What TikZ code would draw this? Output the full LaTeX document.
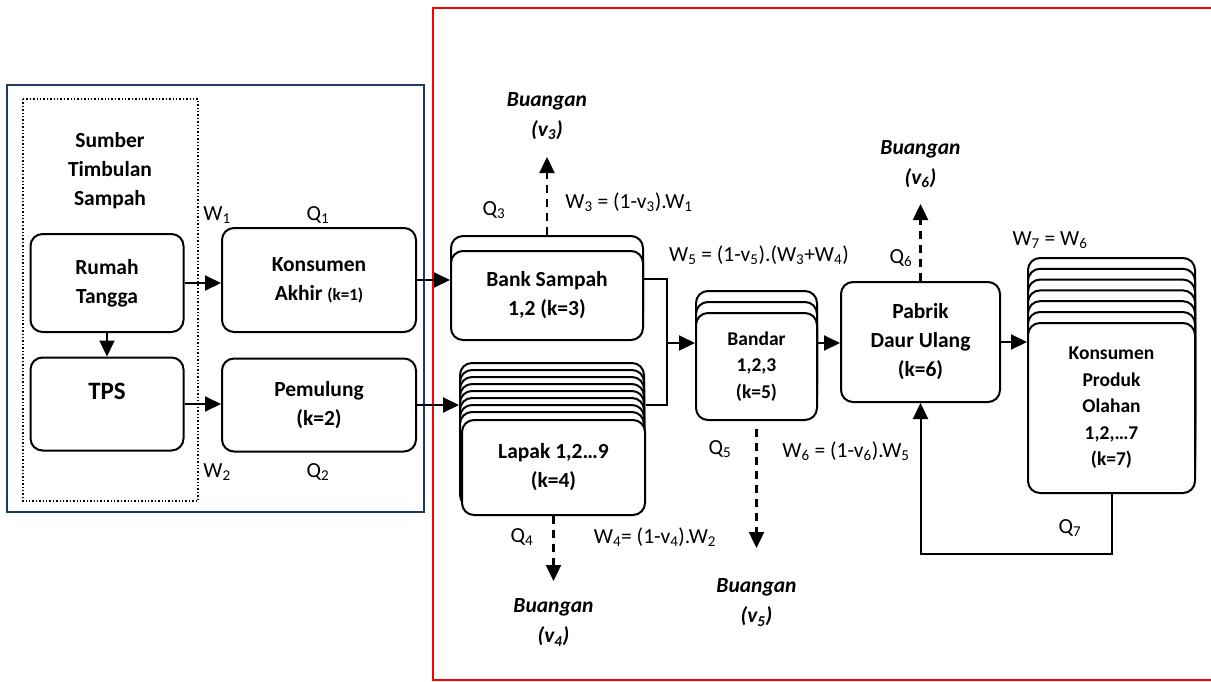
\documentclass[tikz,border=0pt]{standalone}
\usepackage{fontspec}
\setmainfont{Carlito}
\usetikzlibrary{arrows.meta,positioning}
\definecolor{navy}{RGB}{31,56,100}

\begin{document}
\begin{tikzpicture}[x=1pt, y=-1pt, line width=2pt,
    box/.style={draw, rounded corners=12pt, fill=white, align=center, inner sep=0pt, font=\fontsize{21.5}{29}\selectfont\bfseries},
    layer/.style={draw, rounded corners=12pt, fill=white},
    small/.style={font=\fontsize{19.5}{26.5}\selectfont\bfseries},
    lbl/.style={inner sep=0pt, font=\fontsize{21.5}{26}\selectfont},
    waste/.style={align=center, inner sep=0pt, font=\fontsize{21.5}{30}\selectfont\bfseries\itshape},
    arr/.style={-{Triangle[length=16pt,width=15pt]}},
    darr/.style={arr, line width=2.4pt, dash pattern=on 8pt off 6pt}]
    	\useasboundingbox (0,0) rectangle (1211,681);
    	\draw[red, line width=2.2pt] (1214,8) -| (433,680) -- (1214,680);
    	\draw[navy, line width=2pt] (7,85) rectangle (424,512);
    	\draw[dotted, line width=1.4pt] (23,99) rectangle (198,501);
    	\node[align=center, font=\fontsize{21.5}{29}\selectfont\bfseries] (src) at (110,171) {Sumber\\Timbulan\\Sampah};

    	\node[box, minimum width=153pt, minimum height=98pt] (rt) at (107,283) {Rumah\\Tangga};
    	\node[box, minimum width=153pt, minimum height=93pt] (tps) at (107,404) {};
    	\node[inner sep=0pt, font=\fontsize{25}{30}\selectfont\bfseries, below=26pt of tps.north] (tpsname) {TPS};
    	\node[box, minimum width=194pt, minimum height=104pt] (ka) at (319,280) {Konsumen\\Akhir {\fontsize{17}{20}\selectfont(k=1)}};
    	\node[box, minimum width=194pt, minimum height=93pt] (pem) at (319,405) {Pemulung\\(k=2)};

    	\draw[layer] (451,236) rectangle (643,325);
    	\node[box, minimum width=192pt, minimum height=89pt] (bank) at (547,295.5) {Bank Sampah\\1,2 (k=3)};
    	\foreach \t in {0,...,7}
    		\draw[layer] (460,{363+7*\t}) rectangle (644,{458+7*\t});
    	\node[box, minimum width=183pt, minimum height=95pt] (lapak) at (553.5,467.5) {Lapak 1,2…9\\(k=4)};
    	\foreach \t in {291,302}
    		\draw[layer] (696,\t) rectangle (817,{\t+107});
    	\node[box, small, minimum width=121pt, minimum height=107pt] (bandar) at (756.5,366.5) {Bandar\\1,2,3\\(k=5)};
    	\node[box, minimum width=159pt, minimum height=120pt] (pabrik) at (920.5,342) {Pabrik\\Daur Ulang\\(k=6)};
    	\foreach \t in {0,...,5}
    		\draw[layer] (1028,{258+10.8*\t}) rectangle (1195,{428+10.8*\t});
    	\node[box, small, minimum width=167pt, minimum height=170pt] (kpo) at (1111.5,408) {Konsumen\\Produk\\Olahan\\1,2,…7\\(k=7)};

    	\draw[arr] (rt.east) -- (rt.east -| ka.west);
    	\draw[arr] (rt) -- (tps);
    	\draw[arr] (tps.east) -- (tps.east -| pem.west);
    	\draw[arr] (ka.east) -- (ka.east -| bank.west);
    	\draw[arr] (pem.east) -- ([xshift=-2pt]pem.east -| lapak.west);
    	\coordinate (jn) at (667,343);
    	\draw ([yshift=17pt]bank.east) -| (jn) |- (lapak.east |- pem.east);
    	\draw[arr] (jn) -- (jn -| bandar.west);
    	\draw[arr] (bandar.east |- jn) -- (pabrik.west |- jn);
    	\draw[arr] (pabrik.east) -- (pabrik.east -| kpo.west);
    	\draw[arr] (kpo.south) -- ++(0,60) -| (pabrik.south);

    	\draw[darr] ([yshift=15pt]bank.north) -- ++(0,-78) coordinate (t3);
    	\node[waste, above=16pt of t3] (b3) {Buangan\\(v\textsubscript{3})};
    	\draw[darr] (pabrik.north) -- ++(0,-77) coordinate (t6);
    	\node[waste, above=15pt of t6] (b6) {Buangan\\(v\textsubscript{6})};
    	\draw[darr] (lapak.south) -- ++(0,65) coordinate (t4);
    	\node[waste, below=17pt of t4] (b4) {Buangan\\(v\textsubscript{4})};
    	\draw[darr] ([yshift=-8pt]bandar.south) -- ++(0,119) coordinate (t5);
    	\node[waste, below=30pt of t5] (b5) {Buangan\\(v\textsubscript{5})};

    	\node[lbl] (w1) at (217,215) {W\textsubscript{1}};
    	\node[lbl] (q1) at (318,215) {Q\textsubscript{1}};
    	\node[lbl] (w2) at (217,472) {W\textsubscript{2}};
    	\node[lbl] (q2) at (318,472) {Q\textsubscript{2}};
    	\node[lbl] (q3) at (494,210) {Q\textsubscript{3}};
    	\node[lbl] (w3) at (629,202) {W\textsubscript{3} = (1-v\textsubscript{3}).W\textsubscript{1}};
    	\node[lbl] (w5) at (759,255) {W\textsubscript{5} = (1-v\textsubscript{5}).(W\textsubscript{3}+W\textsubscript{4})};
    	\node[lbl] (q4) at (522,537) {Q\textsubscript{4}};
    	\node[lbl] (w4) at (655,537) {W\textsubscript{4}= (1-v\textsubscript{4}).W\textsubscript{2}};
    	\node[lbl] (q5) at (720,449) {Q\textsubscript{5}};
    	\node[lbl] (w6) at (846,451) {W\textsubscript{6} = (1-v\textsubscript{6}).W\textsubscript{5}};
    	\node[lbl] (q6) at (901,258) {Q\textsubscript{6}};
    	\node[lbl] (w7) at (1050,240) {W\textsubscript{7} = W\textsubscript{6}};
    	\node[lbl] (q7) at (1070,528) {Q\textsubscript{7}};
\end{tikzpicture}
\end{document}
